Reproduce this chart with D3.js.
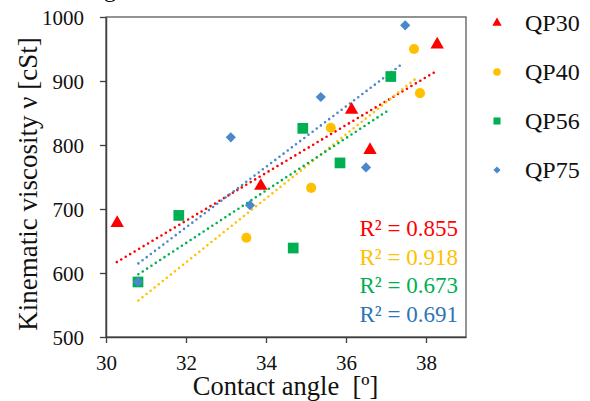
<!DOCTYPE html>
<html lang="en">
<head>
<meta charset="utf-8">
<title>Kinematic viscosity vs contact angle</title>
<script src="https://d3js.org/d3.v7.min.js"></script>
</head>
<body style="margin:0;background:#fff">
<div id="chart"></div>
<script>
// series names
var seriesNames = ["QP30", "QP40", "QP56", "QP75"];

// contact angle (x) and viscosity (y) for each series
var qp30X = [30.28, 33.87, 36.14, 36.60, 38.28];
var qp30Y = [678, 736, 855, 792, 957];
var qp40X = [30.80, 33.51, 35.13, 35.62, 37.70, 37.85];
var qp40Y = [586, 655, 733, 827, 950, 881];
var qp56X = [30.80, 31.82, 34.68, 34.92, 35.85, 37.12];
var qp56Y = [586, 690, 639, 826, 772, 907];
var qp75X = [30.80, 33.12, 33.60, 35.37, 36.50, 37.48];
var qp75Y = [586, 812, 706, 875, 765, 987];

// linear trendlines: x range and y at each end
var trendX0 = [30.27, 30.81, 30.81, 30.81];
var trendX1 = [38.22, 37.81, 37.03, 37.37];
var trendY0 = [617, 557, 598, 615];
var trendY1 = [914, 907, 853, 925];

var rSquared = ["0.855", "0.918", "0.673", "0.691"];

var xTicks = [30, 32, 34, 36, 38];
var yTicks = [500, 600, 700, 800, 900, 1000];

var colors = ["#ff0000", "#ffc000", "#00b050", "#4a88cc"];
var labelColors = ["#ff0000", "#ffc000", "#00b050", "#2e75b6"];
var symbols = [d3.symbolTriangle, d3.symbolCircle, d3.symbolSquare, d3.symbolSquare];
var symbolSizes = [78, 80, 115, 52];
var legendSizes = [38, 45, 50, 26];
var rotations = [0, 0, 0, 45];

var xs = [qp30X, qp40X, qp56X, qp75X];
var ys = [qp30Y, qp40Y, qp56Y, qp75Y];

var serif = "'Liberation Serif', 'Times New Roman', serif";
var width = 590, height = 401;
var margin = {left: 106, top: 17, right: 124, bottom: 64};

var svg = d3.select("#chart").append("svg")
  .attr("width", width)
  .attr("height", height)
  .style("font-family", serif);

var x = d3.scaleLinear().domain([30, 39]).range([margin.left, width - margin.right]);
var y = d3.scaleLinear().domain([500, 1000]).range([height - margin.bottom, margin.top]);

function label(sel) {
  return sel.style("font-family", serif);
}

// cut-off title remnant at the top
label(svg.append("text"))
  .attr("x", 104).attr("y", -3)
  .attr("font-size", 24)
  .text("g");

// frame
svg.append("rect")
  .attr("x", x(30)).attr("y", y(1000))
  .attr("width", x(39) - x(30)).attr("height", y(500) - y(1000))
  .attr("fill", "none").attr("stroke", "#595959").attr("stroke-width", 1.3);

// axes
var xAxis = svg.append("g")
  .attr("transform", "translate(0," + y(500) + ")")
  .call(d3.axisBottom(x).tickValues(xTicks).tickSize(6).tickSizeOuter(0).tickFormat(d3.format("d")));
var yAxis = svg.append("g")
  .attr("transform", "translate(" + x(30) + ",0)")
  .call(d3.axisLeft(y).tickValues(yTicks).tickSize(6).tickSizeOuter(0).tickFormat(d3.format("d")));

[xAxis, yAxis].forEach(function(a) {
  a.attr("font-family", null).attr("font-size", 21);
  a.select(".domain").attr("stroke", "#404040").attr("stroke-width", 1.5);
  a.selectAll(".tick line").attr("stroke", "#404040").attr("stroke-width", 1.3);
  label(a.selectAll(".tick text")).attr("fill", "#111");
});
xAxis.selectAll(".tick text").attr("y", 33).attr("dy", 0);
yAxis.selectAll(".tick text").attr("x", -22).attr("dy", "0.34em");

// axis titles
label(svg.append("text"))
  .attr("x", 285.5).attr("y", 395)
  .attr("text-anchor", "middle")
  .attr("font-size", 26.5)
  .attr("fill", "#111")
  .text("Contact angle\u00a0\u00a0[º]");

label(svg.append("text"))
  .attr("transform", "translate(37,184) rotate(-90)")
  .attr("text-anchor", "middle")
  .attr("font-size", 27)
  .attr("fill", "#111")
  .text("Kinematic viscosity ν [cSt]");

// trendlines
seriesNames.forEach(function(name, i) {
  svg.append("line")
    .attr("x1", x(trendX0[i])).attr("y1", y(trendY0[i]))
    .attr("x2", x(trendX1[i])).attr("y2", y(trendY1[i]))
    .attr("stroke", colors[i])
    .attr("stroke-width", 2.6)
    .attr("stroke-linecap", "round")
    .attr("stroke-dasharray", "0 5.2");
});

// points
seriesNames.forEach(function(name, i) {
  var pts = xs[i].map(function(v, j) { return {x: v, y: ys[i][j]}; });
  svg.append("g").selectAll("path")
    .data(pts)
    .enter().append("path")
    .attr("transform", function(d) {
      return "translate(" + x(d.x) + "," + y(d.y) + ") rotate(" + rotations[i] + ")";
    })
    .attr("d", d3.symbol().type(symbols[i]).size(symbolSizes[i]))
    .attr("fill", colors[i]);
});

// legend
var legend = svg.append("g");
seriesNames.forEach(function(name, i) {
  var ly = 23 + i * 49;
  legend.append("path")
    .attr("transform", "translate(497," + ly + ") rotate(" + rotations[i] + ")")
    .attr("d", d3.symbol().type(symbols[i]).size(legendSizes[i]))
    .attr("fill", colors[i]);
  label(legend.append("text"))
    .attr("x", 525).attr("y", ly + 8)
    .attr("font-size", 24)
    .attr("fill", "#111")
    .text(name);
});

// R² labels
rSquared.forEach(function(r, i) {
  label(svg.append("text"))
    .attr("x", 458).attr("y", 236 + i * 28.7)
    .attr("text-anchor", "end")
    .attr("font-size", 23)
    .attr("fill", labelColors[i])
    .text("R² = " + r);
});
</script>
</body>
</html>
